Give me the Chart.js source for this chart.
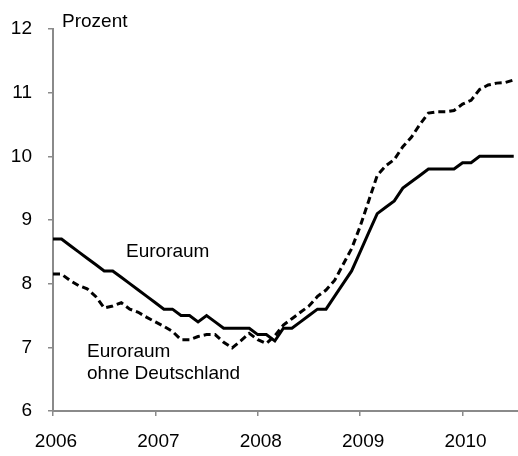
<!DOCTYPE html>
<html>
<head>
<meta charset="utf-8">
<script src="https://cdn.jsdelivr.net/npm/chart.js@4"></script>
<style>
  body { margin: 0; background: #fff; }
  canvas { display: block; }
</style>
</head>
<body>
<canvas id="chart" width="518" height="456"></canvas>
<script>
  // Monatswerte Jan 2006 - Jul 2010 (Index 0 = Jan 2006)
  const yearLabels = ['2006', '2007', '2008', '2009', '2010'];
  const euroraum = [
    8.7, 8.7, 8.6, 8.5, 8.4, 8.3, 8.2, 8.2, 8.1, 8.0, 7.9, 7.8,
    7.7, 7.6, 7.6, 7.5, 7.5, 7.4, 7.5, 7.4, 7.3, 7.3, 7.3, 7.3,
    7.2, 7.2, 7.1, 7.3, 7.3, 7.4, 7.5, 7.6, 7.6, 7.8, 8.0, 8.2,
    8.5, 8.8, 9.1, 9.2, 9.3, 9.5, 9.6, 9.7, 9.8, 9.8, 9.8, 9.8,
    9.9, 9.9, 10.0, 10.0, 10.0, 10.0, 10.0,
  ];
  const ohneDeutschland = [
    8.15, 8.15, 8.05, 7.97, 7.92, 7.8, 7.62, 7.65, 7.7, 7.6, 7.55, 7.47,
    7.4, 7.33, 7.25, 7.12, 7.12, 7.17, 7.2, 7.2, 7.08, 6.99, 7.1, 7.22,
    7.12, 7.06, 7.18, 7.35, 7.45, 7.55, 7.65, 7.8, 7.9, 8.05, 8.3, 8.55,
    8.9, 9.3, 9.7, 9.85, 9.95, 10.15, 10.3, 10.5, 10.68, 10.7, 10.7, 10.72,
    10.82, 10.88, 11.05, 11.12, 11.15, 11.16, 11.2,
  ];

  const toPoints = (arr) => arr.map((v, i) => ({ x: i, y: v }));

  Chart.defaults.font.family = '"Liberation Sans", Arial, sans-serif';
  Chart.defaults.font.size = 19;
  Chart.defaults.color = '#000';

  const textPlugin = {
    id: 'texts',
    afterDraw(chart) {
      const { ctx } = chart;
      ctx.save();
      ctx.font = '19px "Liberation Sans", Arial, sans-serif';
      ctx.fillStyle = '#000';
      ctx.textAlign = 'left';
      ctx.textBaseline = 'middle';
      ctx.fillText('Prozent', 62, 22);
      ctx.fillText('Euroraum', 126, 252);
      ctx.fillText('Euroraum', 87, 352);
      ctx.fillText('ohne Deutschland', 87, 374);
      ctx.restore();
    },
  };

  const axisGray = '#8a8a8a';

  new Chart(document.getElementById('chart').getContext('2d'), {
    type: 'line',
    data: {
      datasets: [
        {
          label: 'Euroraum',
          data: toPoints(euroraum),
          borderColor: '#000',
          borderWidth: 3,
          pointRadius: 0,
          tension: 0,
        },
        {
          label: 'Euroraum ohne Deutschland',
          data: toPoints(ohneDeutschland),
          borderColor: '#000',
          borderWidth: 3,
          borderDash: [7, 4],
          pointRadius: 0,
          tension: 0,
        },
      ],
    },
    options: {
      responsive: false,
      animation: false,
      layout: { padding: { top: 29, right: 0, left: 0, bottom: 0 } },
      plugins: {
        legend: { display: false },
        tooltip: { enabled: false },
      },
      scales: {
        x: {
          type: 'linear',
          min: 0,
          max: 54.5,
          afterFit(scale) { scale.height = 45; },
          grid: { drawOnChartArea: false, tickLength: 5, color: axisGray, lineWidth: 1.5 },
          border: { color: axisGray, width: 2 },
          ticks: {
            stepSize: 12,
            includeBounds: false,
            autoSkip: false,
            maxRotation: 0,
            padding: 14,
            labelOffset: 3,
            callback: (v) => yearLabels[v / 12] ?? '',
          },
        },
        y: {
          min: 6,
          max: 12,
          afterFit(scale) { scale.width = 53; },
          grid: { drawOnChartArea: false, tickLength: 5, color: axisGray, lineWidth: 1.5 },
          border: { color: axisGray, width: 2 },
          ticks: { stepSize: 1, padding: 16 },
        },
      },
    },
    plugins: [textPlugin],
  });
</script>
</body>
</html>
